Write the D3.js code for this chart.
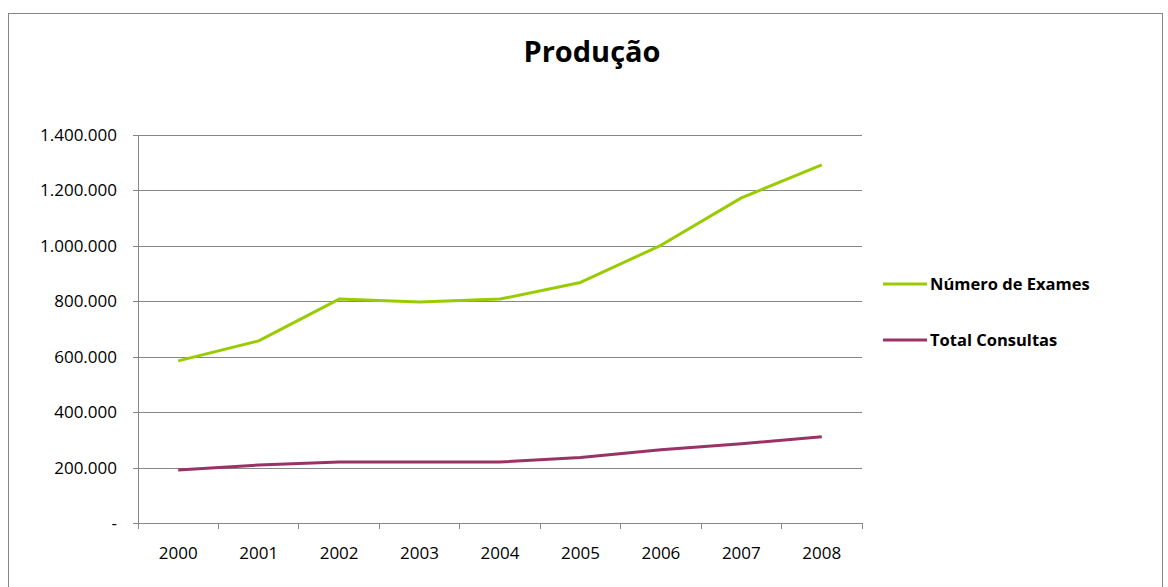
<!DOCTYPE html>
<html>
<head>
  <style type="text/css">
    body { margin: 0; background: #fff; }
    .axis text { font: 17px "Open Sans", "Noto Sans", sans-serif; fill: #000; }
    .axis path, .axis line { fill: none; stroke: #868686; shape-rendering: crispEdges; }
    .grid line { stroke: #868686; shape-rendering: crispEdges; }
    .grid path { display: none; }
    .line { fill: none; stroke-width: 3; stroke-linejoin: round; }
    .legend text { font: bold 16.5px "Open Sans", "Noto Sans", sans-serif; fill: #000; }
    .title { font: bold 29px "Open Sans", "Noto Sans", sans-serif; fill: #000; }
  </style>
</head>
<body>
  <div class="svg_container"></div>

  <script src="https://cdnjs.cloudflare.com/ajax/libs/d3/7.8.5/d3.min.js"></script>
  <script type="text/javascript">
    var years = ["2000", "2001", "2002", "2003", "2004", "2005", "2006", "2007", "2008"];
    var exames = [585000, 657000, 808000, 797000, 808000, 868000, 1002000, 1173000, 1292000];
    var consultas = [191000, 209000, 220000, 220000, 220000, 236000, 264000, 286000, 311000];
    var yTicks = [0, 200000, 400000, 600000, 800000, 1000000, 1200000, 1400000];
    var seriesNames = ["Número de Exames", "Total Consultas"];
    var seriesColors = ["#99cc00", "#993366"];

    var W = 1168, H = 587;
    var margin = { top: 135, right: 306, bottom: 64, left: 138 },
      width = W - margin.left - margin.right,
      height = H - margin.top - margin.bottom;

    var svg = d3.select(".svg_container").append("svg")
      .attr("width", W)
      .attr("height", H);

    // chart border
    svg.append("rect")
      .attr("x", 8.5).attr("y", 13.5)
      .attr("width", 1154).attr("height", 590)
      .attr("fill", "none")
      .attr("stroke", "#868686");

    svg.append("text")
      .attr("class", "title")
      .attr("x", 592).attr("y", 62)
      .attr("text-anchor", "middle")
      .text("Produção");

    var g = svg.append("g")
      .attr("transform", "translate(" + margin.left + "," + margin.top + ")");

    var x = d3.scaleBand().domain(years).range([0, width]).padding(0);
    var y = d3.scaleLinear().domain([0, 1400000]).range([height, 0]);

    var ptBR = d3.formatLocale({ decimal: ",", thousands: ".", grouping: [3], currency: ["R$", ""] });
    var fmt = function(d) { return d === 0 ? "-" : ptBR.format(",d")(d); };

    // gridlines
    g.append("g")
      .attr("class", "grid")
      .call(d3.axisLeft(y).tickValues(yTicks.slice(1)).tickSize(-width).tickFormat(""));

    // y axis
    g.append("g")
      .attr("class", "axis")
      .call(d3.axisLeft(y).tickValues(yTicks).tickSize(5).tickPadding(16).tickFormat(fmt))
      .select(".domain").attr("d", "M0.5," + height + "V0");

    // x axis, ticks on category boundaries
    var xAxis = g.append("g")
      .attr("class", "axis")
      .attr("transform", "translate(0," + height + ")")
      .call(d3.axisBottom(x).tickSize(0).tickPadding(24));
    xAxis.select(".domain").attr("d", "M0,0.5H" + width);
    xAxis.selectAll(".bound")
      .data(d3.range(years.length + 1))
      .enter().append("line")
      .attr("x1", function(i) { return i * x.step(); })
      .attr("x2", function(i) { return i * x.step(); })
      .attr("y1", 0).attr("y2", 6);

    var line = d3.line()
      .x(function(d, i) { return x(years[i]) + x.bandwidth() / 2; })
      .y(function(d) { return y(d); });

    [exames, consultas].forEach(function(s, k) {
      g.append("path")
        .datum(s)
        .attr("class", "line")
        .attr("stroke", seriesColors[k])
        .attr("d", line);
    });

    // legend
    var legend = svg.append("g").attr("class", "legend");
    var lg = legend.selectAll("g")
      .data(seriesNames)
      .enter().append("g")
      .attr("transform", function(d, i) { return "translate(883," + (284 + i * 56) + ")"; });
    lg.append("line")
      .attr("x1", 0).attr("x2", 44)
      .attr("stroke-width", 3)
      .attr("stroke", function(d, i) { return seriesColors[i]; });
    lg.append("text")
      .attr("x", 47).attr("dy", "0.35em")
      .text(function(d) { return d; });
  </script>
</body>
</html>
